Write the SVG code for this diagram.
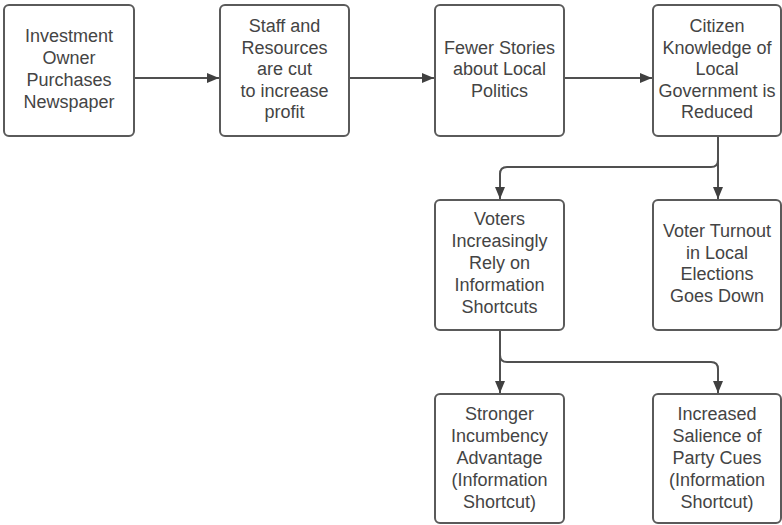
<svg xmlns="http://www.w3.org/2000/svg" width="782" height="525" viewBox="0 0 782 525">
<style>
.box{fill:#fff;stroke:#5a5a5a;stroke-width:2}
.t{font-family:"Liberation Sans",Arial,sans-serif;font-size:18px;fill:#444;text-anchor:middle}
.c{fill:none;stroke:#505050;stroke-width:2}
</style>
<defs>
<marker id="ah" markerUnits="userSpaceOnUse" markerWidth="12" markerHeight="10" refX="12" refY="5" orient="auto">
<path d="M0,0 L12,5 L0,10 z" fill="#404040"/>
</marker>
</defs>
<rect width="782" height="525" fill="#fff"/>
<g id="connectors">
<path class="c" d="M134,78 H219" marker-end="url(#ah)"/>
<path class="c" d="M349,78 H434" marker-end="url(#ah)"/>
<path class="c" d="M564,78 H652" marker-end="url(#ah)"/>
<path class="c" d="M718,136 V199" marker-end="url(#ah)"/>
<path class="c" d="M718,136 V160 Q718,167 711,167 H507 Q500,167 500,174 V199" marker-end="url(#ah)"/>
<path class="c" d="M500,330 V393" marker-end="url(#ah)"/>
<path class="c" d="M500,330 V355 Q500,362 507,362 H711 Q718,362 718,369 V393" marker-end="url(#ah)"/>
</g>
<g id="n1">
<rect class="box" x="4" y="5" width="130" height="131" rx="5"/>
<text class="t"><tspan x="69" y="41.5">Investment</tspan><tspan x="69" y="63.5">Owner</tspan><tspan x="69" y="85.5">Purchases</tspan><tspan x="69" y="107.5">Newspaper</tspan></text>
</g>
<g id="n2">
<rect class="box" x="220" y="5" width="129" height="131" rx="5"/>
<text class="t"><tspan x="284.5" y="31.5">Staff and</tspan><tspan x="284.5" y="53.5">Resources</tspan><tspan x="284.5" y="74.5">are cut</tspan><tspan x="284.5" y="96.5">to increase</tspan><tspan x="284.5" y="117.5">profit</tspan></text>
</g>
<g id="n3">
<rect class="box" x="435" y="5" width="129" height="131" rx="5"/>
<text class="t"><tspan x="499.5" y="53.5">Fewer Stories</tspan><tspan x="499.5" y="74.5">about Local</tspan><tspan x="499.5" y="96.5">Politics</tspan></text>
</g>
<g id="n4">
<rect class="box" x="653" y="5" width="128" height="131" rx="5"/>
<text class="t"><tspan x="717" y="31.5">Citizen</tspan><tspan x="717" y="53.5">Knowledge of</tspan><tspan x="717" y="74.5">Local</tspan><tspan x="717" y="96.5">Government is</tspan><tspan x="717" y="117.5">Reduced</tspan></text>
</g>
<g id="n5">
<rect class="box" x="435" y="200" width="129" height="130" rx="5"/>
<text class="t"><tspan x="499.5" y="224.5">Voters</tspan><tspan x="499.5" y="246.5">Increasingly</tspan><tspan x="499.5" y="268.5">Rely on</tspan><tspan x="499.5" y="290.5">Information</tspan><tspan x="499.5" y="312.5">Shortcuts</tspan></text>
</g>
<g id="n6">
<rect class="box" x="653" y="200" width="128" height="130" rx="5"/>
<text class="t"><tspan x="717" y="236.5">Voter Turnout</tspan><tspan x="717" y="258.5">in Local</tspan><tspan x="717" y="279.5">Elections</tspan><tspan x="717" y="301.5">Goes Down</tspan></text>
</g>
<g id="n7">
<rect class="box" x="435" y="394" width="129" height="129" rx="5"/>
<text class="t"><tspan x="499.5" y="419.5">Stronger</tspan><tspan x="499.5" y="441.5">Incumbency</tspan><tspan x="499.5" y="463.5">Advantage</tspan><tspan x="499.5" y="485.5">(Information</tspan><tspan x="499.5" y="507.5">Shortcut)</tspan></text>
</g>
<g id="n8">
<rect class="box" x="653" y="394" width="128" height="129" rx="5"/>
<text class="t"><tspan x="717" y="419.5">Increased</tspan><tspan x="717" y="441.5">Salience of</tspan><tspan x="717" y="463.5">Party Cues</tspan><tspan x="717" y="485.5">(Information</tspan><tspan x="717" y="507.5">Shortcut)</tspan></text>
</g>
</svg>
